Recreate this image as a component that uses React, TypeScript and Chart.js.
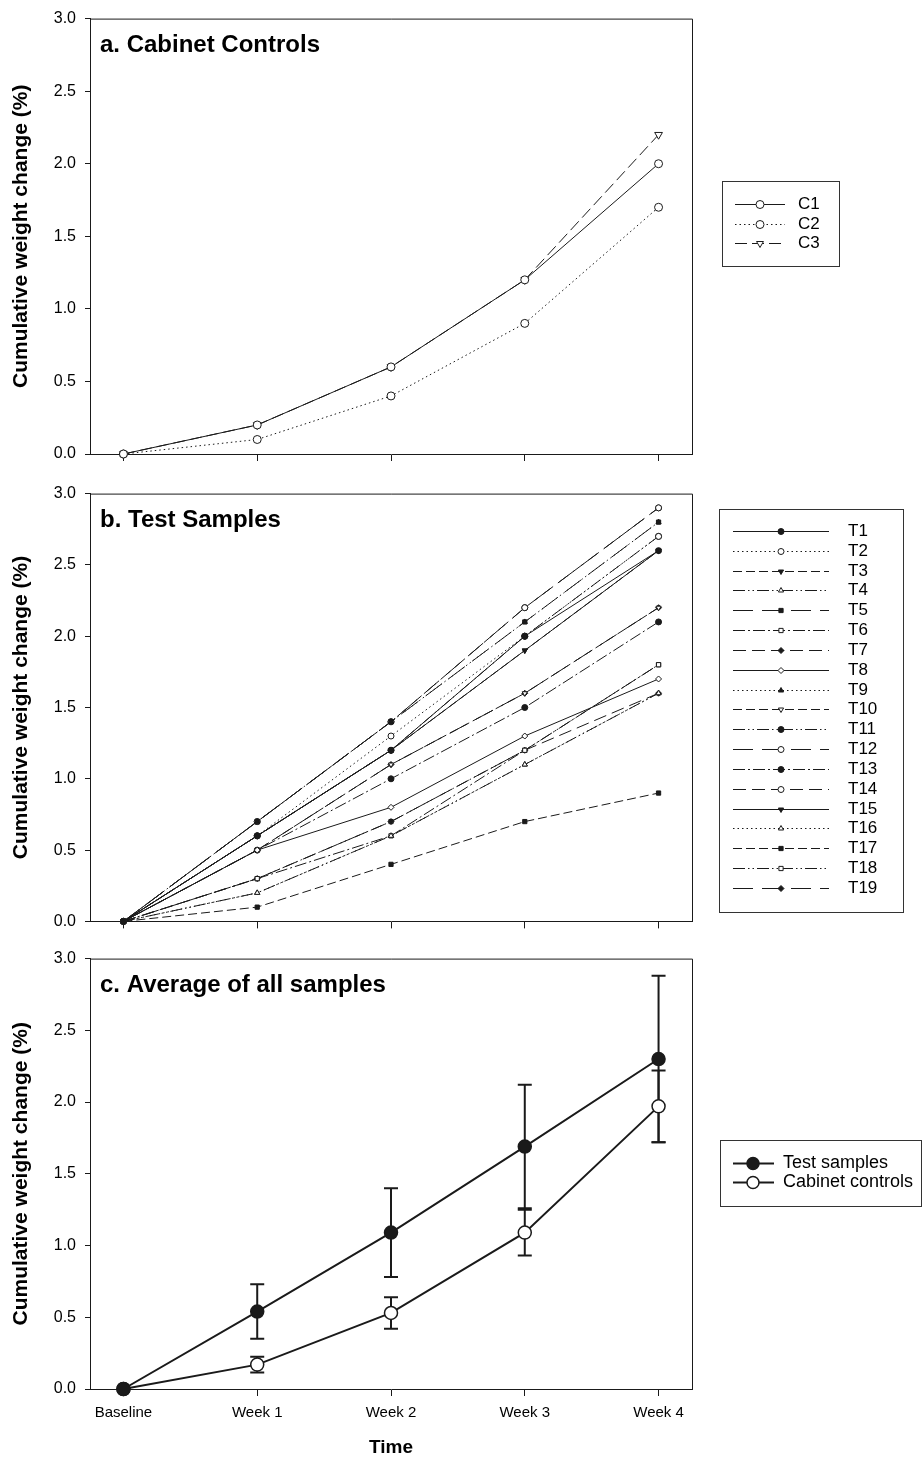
import React, { useEffect, useRef } from 'react';
import { Chart, registerables } from 'chart.js';
import { drawPoint } from 'chart.js/helpers';

Chart.register(...registerables);

// ---------- data ----------
const timeLabels = ['Baseline', 'Week 1', 'Week 2', 'Week 3', 'Week 4'];
const yTickValues = [0, 0.5, 1.0, 1.5, 2.0, 2.5, 3.0];
const yTitle = 'Cumulative weight change (%)';
const xTitle = 'Time';

const controlLabels = ['C1', 'C2', 'C3'];
const c1 = [0, 0.2, 0.6, 1.2, 2.0];
const c2 = [0, 0.1, 0.4, 0.9, 1.7];
const c3 = [0, 0.2, 0.6, 1.2, 2.2];

const testLabels = ['T1', 'T2', 'T3', 'T4', 'T5', 'T6', 'T7', 'T8', 'T9', 'T10', 'T11', 'T12', 'T13', 'T14', 'T15', 'T16', 'T17', 'T18', 'T19'];
const t1 = [0, 0.6, 1.2, 2.0, 2.6];
const t2 = [0, 0.6, 1.3, 2.0, 2.7];
const t3 = [0, 0.6, 1.2, 1.9, 2.6];
const t4 = [0, 0.2, 0.6, 1.1, 1.6];
const t5 = [0, 0.7, 1.4, 2.1, 2.8];
const t6 = [0, 0.3, 0.6, 1.2, 1.8];
const t7 = [0, 0.3, 0.7, 1.2, 1.6];
const t8 = [0, 0.5, 0.8, 1.3, 1.7];
const t9 = [0, 0.7, 1.4, 2.1, 2.8];
const t10 = [0, 0.5, 1.1, 1.6, 2.2];
const t11 = [0, 0.6, 1.2, 2.0, 2.7];
const t12 = [0, 0.7, 1.4, 2.2, 2.9];
const t13 = [0, 0.5, 1.0, 1.5, 2.1];
const t14 = [0, 0.7, 1.4, 2.2, 2.9];
const t15 = [0, 0.6, 1.2, 1.9, 2.6];
const t16 = [0, 0.2, 0.6, 1.1, 1.6];
const t17 = [0, 0.1, 0.4, 0.7, 0.9];
const t18 = [0, 0.3, 0.7, 1.2, 1.8];
const t19 = [0, 0.5, 1.1, 1.6, 2.2];

const averageLabels = ['Test samples', 'Cabinet controls'];
const testMean = [0, 0.54, 1.09, 1.69, 2.30];
const testSD = [0, 0.19, 0.31, 0.43, 0.58];
const controlMean = [0, 0.17, 0.53, 1.09, 1.97];
const controlSD = [0, 0.055, 0.11, 0.16, 0.25];

// ---------- styles ----------
const FONT = '"Liberation Sans", Arial, sans-serif';
const INK = '#1a1a1a';
const CHART_LEFT = 90;
const CHART_RIGHT = 692;
const W = 922;

const testDashes: number[][] = [
  [],
  [1.5, 3],
  [9, 4],
  [12, 3, 1.5, 3, 1.5, 3],
  [20, 9],
  [12, 3, 2, 3],
  [13, 6],
];
const testMarkers: [string, number, boolean][] = [
  ['circle', 0, true],
  ['circle', 0, false],
  ['triangle', 180, true],
  ['triangle', 0, false],
  ['rect', 0, true],
  ['rect', 0, false],
  ['rectRot', 0, true],
  ['rectRot', 0, false],
  ['triangle', 0, true],
  ['triangle', 180, false],
  ['circle', 0, true],
  ['circle', 0, false],
];

const toPoints = (arr: number[]) => arr.map((v, i) => ({ x: i, y: v }));

function lineDataset(label: string, values: number[], dash: number[], style: string, rotation: number, filled: boolean, radius: number, lineWidth: number, pointBorder: number) {
  return {
    label,
    data: toPoints(values),
    borderColor: INK,
    borderWidth: lineWidth,
    borderDash: dash,
    pointStyle: style,
    pointRotation: rotation,
    pointRadius: radius,
    pointBorderWidth: pointBorder,
    pointBorderColor: INK,
    pointBackgroundColor: filled ? INK : '#ffffff',
    tension: 0,
    fill: false,
    clip: false as any,
  };
}

const panelADatasets = () => [
  lineDataset(controlLabels[0], c1, [], 'circle', 0, false, 4, 1, 1),
  lineDataset(controlLabels[1], c2, [1.5, 3], 'circle', 0, false, 4, 1, 1),
  lineDataset(controlLabels[2], c3, [12, 5], 'triangle', 180, false, 4.5, 1, 1),
];

const testSeries = [t1, t2, t3, t4, t5, t6, t7, t8, t9, t10, t11, t12, t13, t14, t15, t16, t17, t18, t19];
const panelBDatasets = () =>
  testSeries.map((vals, i) => {
    const m = testMarkers[i % 12];
    return lineDataset(testLabels[i], vals, testDashes[i % 7], m[0], m[1], m[2], 3, 1, 1);
  });

const panelCDatasets = () => [
  { ...lineDataset(averageLabels[0], testMean, [], 'circle', 0, true, 6.5, 2, 1.5), errors: testSD },
  { ...lineDataset(averageLabels[1], controlMean, [], 'circle', 0, false, 6.5, 2, 1.5), errors: controlSD },
];

interface PanelSpec {
  title: string;
  canvasH: number;
  chartTop: number;
  chartBottom: number;
  showXLabels: boolean;
  datasets: any[];
  legend: { box: [number, number, number, number]; y0: number; dy: number; l0: number; l1: number; mx: number; tx: number; r: number; fontSize: number };
  errorBars?: boolean;
}

function buildConfig(spec: PanelSpec): any {
  const decor = {
    id: 'decor',
    beforeDatasetsDraw(chart: any) {
      if (!spec.errorBars) return;
      const { ctx } = chart;
      const xs = chart.scales.x;
      const ys = chart.scales.y;
      ctx.save();
      ctx.strokeStyle = INK;
      ctx.lineWidth = 2;
      ctx.setLineDash([]);
      chart.data.datasets.forEach((ds: any) => {
        const errs: number[] = ds.errors || [];
        ds.data.forEach((p: any, i: number) => {
          const e = errs[i];
          if (!e) return;
          const x = xs.getPixelForValue(p.x);
          const yTop = ys.getPixelForValue(p.y + e);
          const yBot = ys.getPixelForValue(p.y - e);
          ctx.beginPath();
          ctx.moveTo(x, yTop);
          ctx.lineTo(x, yBot);
          ctx.moveTo(x - 7, yTop);
          ctx.lineTo(x + 7, yTop);
          ctx.moveTo(x - 7, yBot);
          ctx.lineTo(x + 7, yBot);
          ctx.stroke();
        });
      });
      ctx.restore();
    },
    afterDraw(chart: any) {
      const { ctx, chartArea } = chart;
      const { left, top, right, bottom } = chartArea;
      ctx.save();
      // frame top & right
      ctx.strokeStyle = INK;
      ctx.lineWidth = 1;
      ctx.setLineDash([]);
      ctx.beginPath();
      ctx.moveTo(left, top + 0.5);
      ctx.lineTo(right + 0.5, top + 0.5);
      ctx.lineTo(right + 0.5, bottom);
      ctx.stroke();
      // panel title
      ctx.fillStyle = '#000';
      ctx.font = `bold 24px ${FONT}`;
      ctx.textAlign = 'left';
      ctx.textBaseline = 'alphabetic';
      ctx.fillText(spec.title, 100, top + 33);
      // legend
      const lg = spec.legend;
      const [bx0, by0, bx1, by1] = lg.box;
      ctx.strokeStyle = '#333';
      ctx.lineWidth = 1;
      ctx.strokeRect(bx0 + 0.5, by0 + 0.5, bx1 - bx0, by1 - by0);
      chart.data.datasets.forEach((ds: any, i: number) => {
        const y = Math.round(lg.y0 + i * lg.dy) + 0.5;
        ctx.save();
        ctx.strokeStyle = ds.borderColor;
        ctx.lineWidth = ds.borderWidth;
        ctx.setLineDash(ds.borderDash || []);
        ctx.beginPath();
        ctx.moveTo(lg.l0, y);
        ctx.lineTo(lg.l1, y);
        ctx.stroke();
        ctx.setLineDash([]);
        ctx.fillStyle = ds.pointBackgroundColor;
        ctx.strokeStyle = ds.pointBorderColor;
        ctx.lineWidth = ds.pointBorderWidth;
        drawPoint(ctx, { pointStyle: ds.pointStyle, rotation: ds.pointRotation, radius: lg.r, borderWidth: ds.pointBorderWidth } as any, lg.mx, y);
        ctx.restore();
        ctx.fillStyle = '#000';
        ctx.font = `${lg.fontSize}px ${FONT}`;
        ctx.textBaseline = 'middle';
        ctx.textAlign = 'left';
        ctx.fillText(ds.label, lg.tx, y);
      });
      ctx.restore();
    },
  };

  const xHeight = spec.canvasH - spec.chartBottom;
  return {
    type: 'line',
    data: { datasets: spec.datasets },
    plugins: [decor],
    options: {
      responsive: false,
      maintainAspectRatio: false,
      animation: false,
      devicePixelRatio: 1,
      events: [],
      layout: { padding: { left: 0, top: spec.chartTop, right: W - CHART_RIGHT, bottom: 0 } },
      plugins: { legend: { display: false }, tooltip: { enabled: false }, title: { display: false } },
      scales: {
        x: {
          type: 'linear',
          bounds: 'data',
          min: -0.25,
          max: 4.25,
          afterBuildTicks: (s: any) => {
            s.ticks = timeLabels.map((_, i) => ({ value: i }));
          },
          afterFit: (s: any) => {
            s.height = xHeight;
          },
          grid: { drawOnChartArea: false, drawTicks: true, tickLength: 7, color: INK, lineWidth: 1 },
          border: { display: true, color: INK, width: 1 },
          ticks: {
            display: spec.showXLabels,
            autoSkip: false,
            maxRotation: 0,
            padding: 8,
            color: '#000',
            font: { family: FONT, size: 15 },
            callback: (v: any) => timeLabels[Number(v)] ?? '',
          },
          title: {
            display: spec.showXLabels,
            text: xTitle,
            color: '#000',
            font: { family: FONT, size: 19, weight: 'bold' },
            padding: { top: 0, bottom: 2 },
          },
        },
        y: {
          type: 'linear',
          min: 0,
          max: 3,
          afterBuildTicks: (s: any) => {
            s.ticks = yTickValues.map((v) => ({ value: v }));
          },
          afterFit: (s: any) => {
            s.width = CHART_LEFT;
          },
          grid: { drawOnChartArea: false, drawTicks: true, tickLength: 5, color: INK, lineWidth: 1 },
          border: { display: true, color: INK, width: 1 },
          ticks: {
            padding: 9,
            color: '#000',
            font: { family: FONT, size: 16 },
            callback: (v: any) => Number(v).toFixed(1),
          },
          title: {
            display: true,
            text: yTitle,
            color: '#000',
            font: { family: FONT, size: 21, weight: 'bold' },
            padding: { top: 9, bottom: 0 },
          },
        },
      },
    },
  };
}

export default function App() {
  const refA = useRef<HTMLCanvasElement>(null);
  const refB = useRef<HTMLCanvasElement>(null);
  const refC = useRef<HTMLCanvasElement>(null);

  useEffect(() => {
    const specA: PanelSpec = {
      title: 'a. Cabinet Controls',
      canvasH: 475,
      chartTop: 18,
      chartBottom: 454,
      showXLabels: false,
      datasets: panelADatasets(),
      legend: { box: [722, 181, 839, 266], y0: 204, dy: 19.5, l0: 735, l1: 785, mx: 760, tx: 798, r: 4, fontSize: 17 },
    };
    const specB: PanelSpec = {
      title: 'b. Test Samples',
      canvasH: 465,
      chartTop: 15,
      chartBottom: 450,
      showXLabels: false,
      datasets: panelBDatasets(),
      legend: { box: [719, 34, 903, 437], y0: 56, dy: 19.83, l0: 733, l1: 829, mx: 781, tx: 848, r: 3, fontSize: 17 },
    };
    const specC: PanelSpec = {
      title: 'c. Average of all samples',
      canvasH: 521,
      chartTop: 14,
      chartBottom: 449,
      showXLabels: true,
      errorBars: true,
      datasets: panelCDatasets(),
      legend: { box: [720, 200, 921, 266], y0: 223, dy: 19, l0: 733, l1: 774, mx: 753, tx: 783, r: 6, fontSize: 18 },
    };
    const charts = [
      new Chart(refA.current as HTMLCanvasElement, buildConfig(specA)),
      new Chart(refB.current as HTMLCanvasElement, buildConfig(specB)),
      new Chart(refC.current as HTMLCanvasElement, buildConfig(specC)),
    ];
    return () => charts.forEach((c) => c.destroy());
  }, []);

  return (
    <div style={{ position: 'absolute', left: 0, top: 0, width: W, height: 1461, background: '#ffffff' }}>
      <canvas ref={refA} width={W} height={475} style={{ position: 'absolute', left: 0, top: 0, width: W, height: 475 }} />
      <canvas ref={refB} width={W} height={465} style={{ position: 'absolute', left: 0, top: 475, width: W, height: 465 }} />
      <canvas ref={refC} width={W} height={521} style={{ position: 'absolute', left: 0, top: 940, width: W, height: 521 }} />
    </div>
  );
}
